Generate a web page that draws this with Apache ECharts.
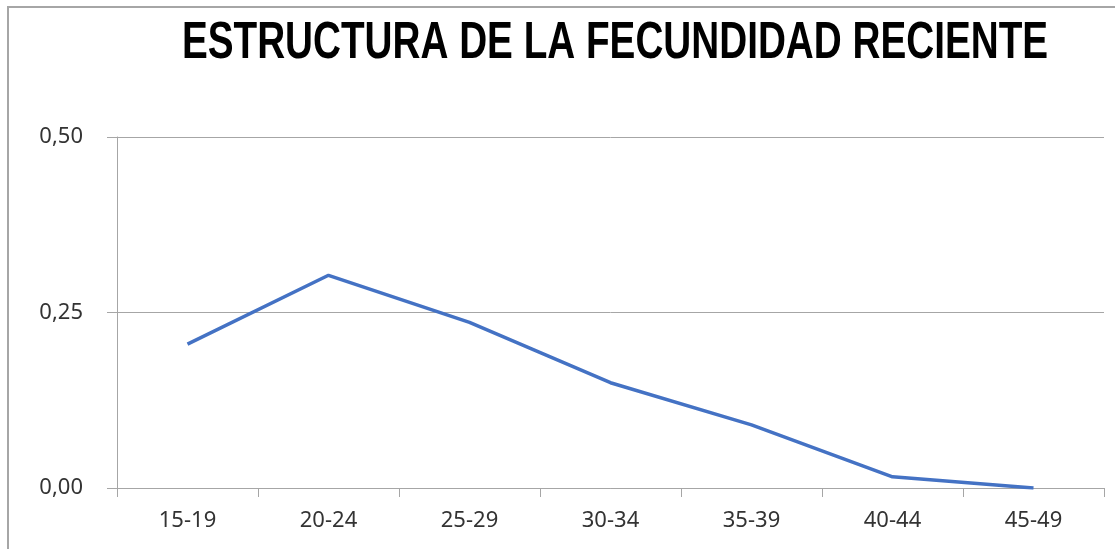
<!DOCTYPE html>
<html>
<head>
<meta charset="utf-8">
<title>Estructura de la fecundidad reciente</title>
<script src="https://cdn.jsdelivr.net/npm/echarts@6/dist/echarts.min.js"></script>
<style>
  html, body { margin: 0; padding: 0; background: #fff; }
  #chart { position: absolute; left: 0; top: 0; width: 1115px; height: 549px; }
  .frame {
    position: absolute; left: 7px; top: 6px; right: 0; bottom: 0;
    border-top: 2px solid #a6a6a6; border-left: 2px solid #a6a6a6;
    pointer-events: none;
  }
</style>
</head>
<body>
<div id="chart"></div>
<div class="frame"></div>
<script>
// grupos de edad y tasas
const ageGroups = ['15-19', '20-24', '25-29', '30-34', '35-39', '40-44', '45-49'];
const fertility = [0.205, 0.303, 0.236, 0.150, 0.090, 0.016, 0.000];
const yTicks = [0, 0.25, 0.5];
const titleText = 'ESTRUCTURA DE LA FECUNDIDAD RECIENTE';

const chart = echarts.init(document.getElementById('chart'));
const labelFont = 'Noto Sans';

chart.setOption({
  animation: false,
  // título estrecho tipo Calibri: fuente normal estirada en vertical
  graphic: [{
    type: 'text',
    x: 615,
    y: 43,
    scaleY: 1.36,
    style: {
      text: titleText,
      x: 0,
      y: 0,
      align: 'center',
      verticalAlign: 'middle',
      font: 'bold 38.7px "Liberation Sans"',
      fill: '#000'
    }
  }],
  grid: {
    left: 117,
    right: 11,
    top: 137,
    bottom: 61
  },
  xAxis: {
    type: 'category',
    data: ageGroups,
    boundaryGap: true,
    axisLine: { lineStyle: { color: '#a6a6a6', width: 1 } },
    axisTick: { show: true, length: 9, lineStyle: { color: '#a6a6a6' } },
    axisLabel: {
      margin: 22,
      fontFamily: labelFont,
      fontSize: 22,
      color: '#333'
    }
  },
  yAxis: {
    type: 'value',
    min: yTicks[0],
    max: yTicks[yTicks.length - 1],
    interval: 0.25,
    axisLine: { show: true, lineStyle: { color: '#a6a6a6', width: 1 } },
    axisTick: { show: true, length: 10, lineStyle: { color: '#a6a6a6' } },
    splitLine: { lineStyle: { color: '#a6a6a6', width: 1 } },
    axisLabel: {
      margin: 34,
      fontFamily: labelFont,
      fontSize: 22,
      color: '#333',
      formatter: v => v.toFixed(2).replace('.', ',')
    }
  },
  series: [{
    type: 'line',
    data: fertility,
    symbol: 'none',
    lineStyle: { color: '#4472c4', width: 3.5 }
  }]
});
</script>
</body>
</html>
